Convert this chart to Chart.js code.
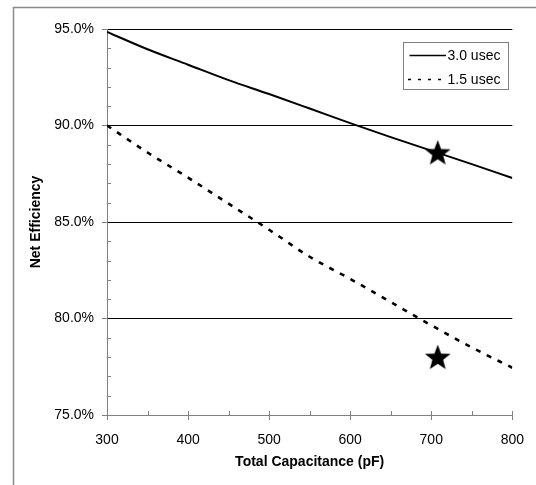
<!DOCTYPE html>
<html>
<head>
<meta charset="utf-8">
<script src="https://cdn.jsdelivr.net/npm/chart.js@4"></script>
<style>
  html, body { margin: 0; padding: 0; background: #fff; }
  #c { display: block; }
</style>
</head>
<body>
<canvas id="c" width="536" height="485"></canvas>
<script>
// ---- data ----
const capacitance = [300, 350, 400, 450, 500, 550, 600, 650, 700, 750, 800];
const eff30 = [94.85, 93.95, 93.15, 92.35, 91.63, 90.88, 90.12, 89.4, 88.7, 88.0, 87.28];
const eff15 = [90.0, 88.6, 87.3, 85.95, 84.6, 83.2, 82.05, 80.85, 79.65, 78.5, 77.45];
const starX = [708, 708];
const starY = [88.6, 78.0];
const seriesLabels = ['3.0 usec', '1.5 usec'];
const xTicks = [300, 400, 500, 600, 700, 800];
const yTicks = [75, 80, 85, 90, 95];

const FONT = '"Liberation Sans", Arial, sans-serif';

// filled star marker
function makeStar(size) {
  const cv = document.createElement('canvas');
  cv.width = size; cv.height = size;
  const g = cv.getContext('2d');
  const cx = size / 2, cy = size / 2 + 1, ro = size / 2 - 0.5, ri = ro * 0.42;
  g.beginPath();
  for (let i = 0; i < 10; i++) {
    const r = i % 2 === 0 ? ro : ri;
    const a = -Math.PI / 2 + i * Math.PI / 5;
    const px = cx + r * Math.cos(a), py = cy + r * Math.sin(a);
    if (i === 0) g.moveTo(px, py); else g.lineTo(px, py);
  }
  g.closePath();
  g.fillStyle = '#000';
  g.fill();
  return cv;
}
const starImg = makeStar(28);

const toXY = (xs, ys) => xs.map((x, i) => ({ x: x, y: ys[i] }));

// frame + minor ticks + legend
const decor = {
  id: 'decor',
  beforeDraw(chart) {
    const ctx = chart.ctx;
    ctx.save();
    ctx.strokeStyle = '#8a8a8a';
    ctx.lineWidth = 1.5;
    ctx.beginPath();
    ctx.moveTo(13.5, 485);
    ctx.lineTo(13.5, 7.5);
    ctx.lineTo(536, 7.5);
    ctx.stroke();
    ctx.restore();
  },
  afterDraw(chart) {
    const ctx = chart.ctx;
    const xs = chart.scales.x, ys = chart.scales.y;
    const ca = chart.chartArea;
    ctx.save();
    ctx.strokeStyle = '#808080';
    ctx.lineWidth = 1;
    ctx.beginPath();
    // x minor ticks and inner part of major ticks
    for (let v = xs.min; v <= xs.max; v += 50) {
      const px = Math.round(xs.getPixelForValue(v)) + 0.5;
      ctx.moveTo(px, ca.bottom);
      ctx.lineTo(px, ca.bottom - 4);
    }
    // y minor ticks
    for (let v = ys.min + 1; v < ys.max; v += 1) {
      if (v % 5 === 0) continue;
      const py = Math.round(ys.getPixelForValue(v)) + 0.5;
      ctx.moveTo(ca.left, py);
      ctx.lineTo(ca.left + 4, py);
    }
    ctx.stroke();

    // legend box
    const bx = 403.5, by = 42.5, bw = 105, bh = 47;
    ctx.fillStyle = '#fff';
    ctx.fillRect(bx, by, bw, bh);
    ctx.strokeStyle = '#808080';
    ctx.lineWidth = 1;
    ctx.strokeRect(bx, by, bw, bh);
    ctx.font = '14px ' + FONT;
    ctx.fillStyle = '#000';
    ctx.textBaseline = 'middle';
    ctx.textAlign = 'left';
    const rows = [55, 79];
    chart.data.datasets.slice(0, 2).forEach((ds, i) => {
      const y = rows[i] + 0.5;
      ctx.strokeStyle = '#000';
      ctx.lineWidth = 1.6;
      ctx.setLineDash(i === 0 ? [] : [3, 7]);
      ctx.beginPath();
      ctx.moveTo(i === 0 ? 409.5 : 408, y);
      ctx.lineTo(446, y);
      ctx.stroke();
      ctx.setLineDash([]);
      ctx.fillText(ds.label, 447.5, rows[i] + 1);
    });
    ctx.restore();
  }
};

new Chart(document.getElementById('c'), {
  type: 'line',
  data: {
    datasets: [
      {
        label: seriesLabels[0],
        data: toXY(capacitance, eff30),
        borderColor: '#000',
        borderWidth: 2,
        pointRadius: 0,
        cubicInterpolationMode: 'monotone',
        fill: false
      },
      {
        label: seriesLabels[1],
        data: toXY(capacitance, eff15),
        borderColor: '#000',
        borderWidth: 2.6,
        borderDash: [5, 7],
        pointRadius: 0,
        cubicInterpolationMode: 'monotone',
        fill: false
      },
      {
        label: 'markers',
        data: toXY(starX, starY),
        showLine: false,
        pointStyle: starImg,
        pointRadius: 14,
        borderColor: '#000',
        backgroundColor: '#000'
      }
    ]
  },
  options: {
    responsive: false,
    animation: false,
    devicePixelRatio: 1,
    layout: { padding: { top: 29, right: 23, left: 0, bottom: 0 } },
    plugins: {
      legend: { display: false },
      tooltip: { enabled: false }
    },
    scales: {
      x: {
        type: 'linear',
        min: 300,
        max: 800,
        afterFit(scale) { scale.height = 70; },
        afterBuildTicks(scale) { scale.ticks = xTicks.map(v => ({ value: v })); },
        ticks: {
          color: '#000',
          font: { family: FONT, size: 14 },
          padding: 12,
          maxRotation: 0
        },
        grid: {
          drawOnChartArea: false,
          drawTicks: true,
          tickLength: 5,
          tickColor: '#808080'
        },
        border: { display: true, color: '#808080', width: 1 },
        title: {
          display: true,
          text: 'Total Capacitance (pF)',
          color: '#000',
          font: { family: FONT, size: 14, weight: 'bold' },
          padding: { top: 0, bottom: 14 }
        }
      },
      y: {
        type: 'linear',
        min: 75,
        max: 95,
        afterFit(scale) { scale.width = 107; },
        afterBuildTicks(scale) { scale.ticks = yTicks.map(v => ({ value: v })); },
        ticks: {
          color: '#000',
          font: { family: FONT, size: 14 },
          padding: 8,
          callback: v => Number(v).toFixed(1) + '%'
        },
        grid: {
          drawOnChartArea: true,
          drawTicks: true,
          tickLength: 5,
          color: ctx => (ctx.tick && ctx.tick.value === 75) ? 'rgba(0,0,0,0)' : '#000',
          tickColor: '#808080',
          lineWidth: 1
        },
        border: { display: true, color: '#808080', width: 1 },
        title: {
          display: true,
          text: 'Net Efficiency',
          color: '#000',
          font: { family: FONT, size: 14, weight: 'bold' },
          padding: { top: 28, bottom: 0 }
        }
      }
    }
  },
  plugins: [decor]
});
</script>
</body>
</html>
